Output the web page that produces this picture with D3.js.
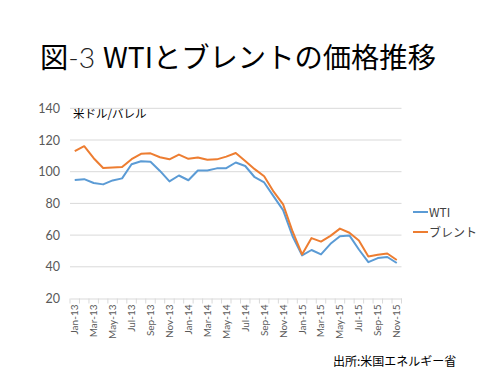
<!DOCTYPE html>
<html>
<head>
<meta charset="utf-8">
<script src="https://cdn.jsdelivr.net/npm/d3@7"></script>
<style>
  body { margin: 0; background: #fff; }
  svg { display: block; }
</style>
</head>
<body>
<svg id="chart" width="500" height="375"></svg>
<script>
// months Jan-13 .. Nov-15
const months = ['Jan-13','Feb-13','Mar-13','Apr-13','May-13','Jun-13','Jul-13','Aug-13','Sep-13','Oct-13','Nov-13','Dec-13',
  'Jan-14','Feb-14','Mar-14','Apr-14','May-14','Jun-14','Jul-14','Aug-14','Sep-14','Oct-14','Nov-14','Dec-14',
  'Jan-15','Feb-15','Mar-15','Apr-15','May-15','Jun-15','Jul-15','Aug-15','Sep-15','Oct-15','Nov-15'];
const wti = [94.8, 95.3, 92.9, 92.0, 94.5, 95.8, 104.7, 106.6, 106.3, 100.5, 93.9, 97.6,
  94.6, 100.8, 100.8, 102.1, 102.2, 105.8, 103.6, 96.5, 93.2, 84.4, 75.8, 59.3,
  47.2, 50.6, 47.8, 54.5, 59.3, 59.8, 50.9, 42.9, 45.5, 46.2, 42.4];
const brent = [113.0, 116.1, 108.5, 102.3, 102.6, 102.9, 107.9, 111.3, 111.6, 109.1, 107.8, 110.8,
  108.1, 108.9, 107.5, 107.8, 109.5, 111.8, 106.8, 101.6, 97.1, 87.4, 79.4, 62.3,
  47.8, 58.1, 55.9, 59.5, 64.1, 61.5, 56.6, 46.5, 47.6, 48.4, 44.3];
const yTicks = [20, 40, 60, 80, 100, 120, 140];
const seriesNames = ['WTI', 'ブレント'];
const colors = ['#5b9bd5', '#ed7d31'];

const jpFont = '"Noto Sans CJK JP", sans-serif';
const numFont = 'Lato, "Noto Sans", sans-serif';

const svg = d3.select('#chart');

const plotLeft = 70, plotRight = 401.5, plotTop = 108.3, plotBottom = 298.5;

const x = d3.scaleBand()
	.domain(months).range([plotLeft, plotRight]);
const y = d3.scaleLinear()
	.domain([20, 140]).range([plotBottom, plotTop]);

// title
const title = svg.append('text')
	.attr('x', 40).attr('y', 68)
	.attr('font-family', jpFont)
	.attr('font-size', 28.3)
	.attr('fill', '#000');
title.append('tspan').text('図');
title.append('tspan').attr('font-family', numFont).attr('font-weight', 300).attr('fill', '#222').text('-3 ');
title.append('tspan').text('WTIとブレントの価格推移');

// gridlines
svg.append('g').selectAll('line').data(yTicks.slice(1)).enter()
	.append('line')
		.attr('x1', plotLeft).attr('x2', plotRight)
		.attr('y1', d => y(d)).attr('y2', d => y(d))
		.attr('stroke', '#d9d9d9').attr('stroke-width', 1);

// y labels
svg.append('g').selectAll('text').data(yTicks).enter()
	.append('text')
		.attr('x', 60).attr('y', d => y(d) + 4.5)
		.attr('text-anchor', 'end')
		.attr('font-family', numFont).attr('font-size', 12.5)
		.attr('fill', '#595959')
		.text(d => d);

// x axis
const xAxis = svg.append('g')
	.attr('transform', `translate(0,${plotBottom})`)
	.call(d3.axisBottom(x).tickSize(0).tickFormat((d, i) => i % 2 === 0 ? d : ''));
xAxis.select('.domain').attr('stroke', '#d9d9d9');
xAxis.selectAll('text')
	.attr('font-family', numFont).attr('font-size', 10)
	.attr('fill', '#595959')
	.attr('text-anchor', 'end')
	.attr('transform', 'rotate(-90)')
	.attr('x', -6).attr('y', 0).attr('dy', '0.35em');
// tick marks between categories
xAxis.append('g').selectAll('line').data(months.concat(['end'])).enter()
	.append('line')
		.attr('x1', (d, i) => plotLeft + i * x.step()).attr('x2', (d, i) => plotLeft + i * x.step())
		.attr('y1', 0).attr('y2', 5)
		.attr('stroke', '#d9d9d9');

// unit label
svg.append('text')
	.attr('x', 73).attr('y', 118)
	.attr('font-family', jpFont).attr('font-size', 11.5)
	.attr('fill', '#000')
	.text('米ドル/バレル');

// lines
const line = d3.line()
	.x((d, i) => x(months[i]) + x.bandwidth() / 2)
	.y(d => y(d));
[wti, brent].forEach((s, k) => {
	svg.append('path').datum(s)
		.attr('fill', 'none')
		.attr('stroke', colors[k])
		.attr('stroke-width', 2)
		.attr('stroke-linejoin', 'round')
		.attr('d', line);
});

// legend
const legend = svg.append('g').selectAll('g').data(seriesNames).enter()
	.append('g')
		.attr('transform', (d, i) => `translate(413,${212 + i * 20})`);
legend.append('line')
	.attr('x1', 0).attr('x2', 15)
	.attr('stroke', (d, i) => colors[i]).attr('stroke-width', 2);
legend.append('text')
	.attr('x', 16).attr('y', 4.5)
	.attr('font-family', jpFont).attr('font-size', 12)
	.attr('fill', '#404040')
	.text(d => d);

// source
svg.append('text')
	.attr('x', 333).attr('y', 366)
	.attr('font-family', jpFont).attr('font-size', 12)
	.attr('fill', '#000')
	.text('出所:米国エネルギー省');
</script>
</body>
</html>
